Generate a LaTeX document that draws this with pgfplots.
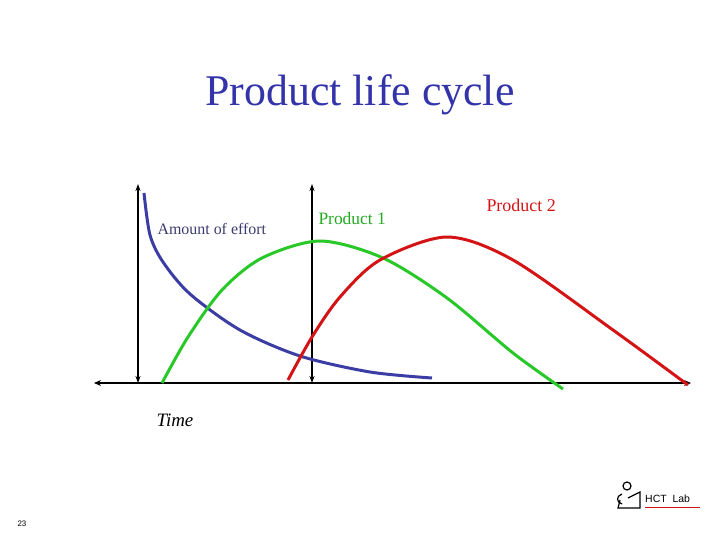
\documentclass[border=0pt]{standalone}
\usepackage{pgfplots}
\pgfplotsset{compat=1.18}
\usepackage{fontspec}
\setmainfont{Liberation Serif}
\newfontfamily\sansf{Liberation Sans}
\usetikzlibrary{arrows.meta}
\definecolor{titleblue}{RGB}{51,51,170}
\definecolor{effortblue}{RGB}{60,60,165}
\definecolor{labelblue}{RGB}{60,60,110}
\definecolor{pgreen}{RGB}{40,200,40}
\definecolor{pred}{RGB}{212,20,20}
\begin{document}
\begin{tikzpicture}
\begin{axis}[
  scale only axis, width=10in, height=7.5in,
  xmin=0, xmax=720, ymin=0, ymax=540, y dir=reverse,
  hide axis, clip=false,
]
\path[fill=white] (axis cs:0,0) rectangle (axis cs:720,540);
% axes
\draw[line width=2.2pt, {Stealth[length=7pt,width=6pt]}-{Stealth[length=7pt,width=6pt]}] (axis cs:94,383) -- (axis cs:691,383);
\draw[line width=2.2pt, {Stealth[length=7pt,width=5pt]}-{Stealth[length=7pt,width=5pt]}] (axis cs:138,184) -- (axis cs:138,383);
\draw[line width=2.2pt, {Stealth[length=7pt,width=5pt]}-{Stealth[length=7pt,width=5pt]}] (axis cs:312,184) -- (axis cs:312,383);
% effort curve
\addplot[effortblue, line width=3pt, smooth] coordinates {
(144,193) (150,235) (163,262) (190,294) (240,330) (300,356) (370,372) (432,378)};
% product 1
\addplot[pgreen, line width=3pt, smooth] coordinates {
(162,383) (188,337) (222,290) (262,258) (320,241) (383,258) (447,298) (513,353) (563,389)};
% product 2
\addplot[pred, line width=3pt, smooth] coordinates {
(288,380) (312,337) (340,297) (380,260) (447,237) (513,260) (613,330) (688,385)};
% texts
\node[titleblue, font=\fontsize{44}{48}\selectfont] at (axis cs:360,95) {Product life cycle};
\node[labelblue, font=\fontsize{16}{18}\selectfont, anchor=west] at (axis cs:154,229) {Amount of effort};
\node[pgreen!85!black, font=\fontsize{17.5}{20}\selectfont, anchor=west] at (axis cs:315,219) {Product 1};
\node[pred, font=\fontsize{18}{20}\selectfont, anchor=west] at (axis cs:483,205) {Product 2};
\node[font=\fontsize{19}{21}\selectfont\itshape, anchor=west] at (axis cs:153,420) {Time};
\node[font=\sansf\fontsize{8}{10}\selectfont, anchor=west] at (axis cs:14,524) {23};
% logo
\node[font=\sansf\fontsize{10.5}{12}\selectfont, anchor=west, inner sep=0pt] at (axis cs:645,499) {HCT\ \ Lab};
\draw[pred, line width=1pt] (axis cs:645,507) -- (axis cs:700,507);
\draw[line width=1.2pt] (axis cs:627,486) circle (4pt);
\draw[line width=1.2pt] (axis cs:622,494) .. controls (axis cs:616,496) and (axis cs:616,502) .. (axis cs:622,504);
\draw[line width=1.2pt] (axis cs:620,500) -- (axis cs:618,508) -- (axis cs:640,508) -- (axis cs:640,492) -- (axis cs:628,498);
\end{axis}
\end{tikzpicture}
\end{document}
